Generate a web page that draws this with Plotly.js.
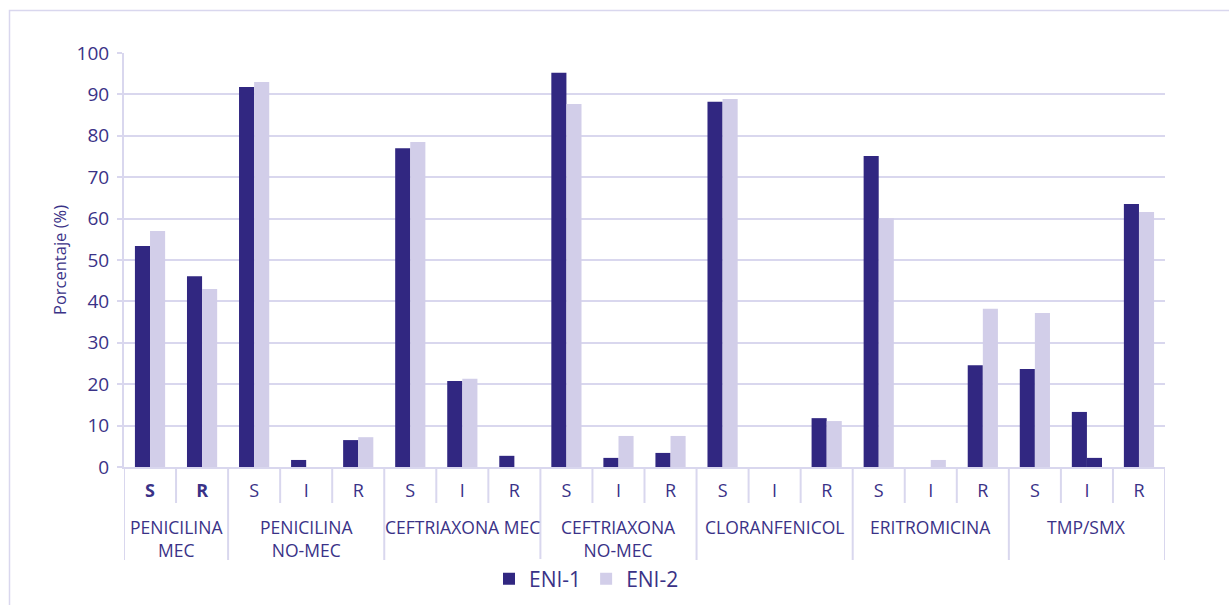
<!DOCTYPE html>
<html>
<head>
<meta charset="utf-8">
<script src="https://cdn.plot.ly/plotly-3.0.1.min.js"></script>
<style>html,body{margin:0;padding:0;background:#fff;}#chart{width:1229px;height:605px;}</style>
</head>
<body>
<div id="chart"></div>
<script>
// ---- data ----
var groups = ["PENICILINA<br>MEC", "PENICILINA<br>NO-MEC", "CEFTRIAXONA MEC", "CEFTRIAXONA<br>NO-MEC", "CLORANFENICOL", "ERITROMICINA", "TMP/SMX"];
var subcats = [["<b>S</b>", "<b>R</b>"], ["S", "I", "R"], ["S", "I", "R"], ["S", "I", "R"], ["S", "I", "R"], ["S", "I", "R"], ["S", "I", "R"]];
var eni1 = [53.4, 46.1, 91.8, 1.7, 6.5, 77.0, 20.8, 2.7, 95.2, 2.2, 3.4, 88.2, 0, 11.8, 75.1, 0, 24.6, 23.7, 13.3, 63.5];
var eni2 = [57.0, 43.0, 93.0, 0, 7.2, 78.5, 21.3, 0, 87.7, 7.5, 7.5, 88.9, 0, 11.1, 60.1, 1.7, 38.2, 37.2, 2.2, 61.6];
var seriesNames = ["ENI-1", "ENI-2"];
var yTicks = [0, 10, 20, 30, 40, 50, 60, 70, 80, 90, 100];

// ---- style ----
var DARK = "#312781", LIGHT = "#d2cee9", GRID = "#d9d7ee", TXT = "#3a3287";
var FONT = "'Open Sans', 'Noto Sans', sans-serif";

// build positions from categories
var xs = [], ticktext = [], groupStart = [], groupCenter = [];
var idx = 0;
subcats.forEach(function (sc, g) {
  groupStart.push(idx);
  groupCenter.push(idx + (sc.length - 1) / 2);
  sc.forEach(function (s) { xs.push(idx); ticktext.push(s); idx++; });
});
var N = idx;
var eni2Colors = eni2.map(function (v, i) { return (i === 18) ? DARK : LIGHT; });

// pixel helpers for paper coords
var L = 124, R = 64, T = 53, B = 138, W = 1229, H = 605;
var pw = W - L - R, ph = H - T - B;
function py(Y) { return (H - B - Y) / ph; }
function px(X) { return (X - L) / pw; }

var shapes = [];
for (var k = 0; k <= N; k++) {
  var isGroup = groupStart.indexOf(k) >= 0 || k === N;
  shapes.push({type: "line", xref: "x", yref: "paper", x0: k - 0.5, x1: k - 0.5,
    y0: 0, y1: isGroup ? py(560) : py(503), line: {color: GRID, width: 2}});
}
shapes.push({type: "rect", xref: "paper", yref: "paper", x0: px(9.5), x1: 1.3, y0: py(10.5), y1: -0.6,
  line: {color: GRID, width: 1.5}, fillcolor: "rgba(0,0,0,0)", layer: "below"});

var annotations = groups.map(function (g, i) {
  return {text: g, x: groupCenter[i], xref: "x", y: py(513), yref: "paper", yanchor: "top",
    showarrow: false, font: {family: FONT, size: 17.5, color: TXT}, align: "center"};
});

var traces = [
  {type: "bar", name: seriesNames[0], x: xs, y: eni1, marker: {color: DARK}},
  {type: "bar", name: seriesNames[1], x: xs, y: eni2, marker: {color: eni2Colors}}
];

var layout = {
  width: W, height: H,
  margin: {l: L, r: R, t: T, b: B, autoexpand: false},
  paper_bgcolor: "#fff", plot_bgcolor: "#fff",
  font: {family: FONT, color: TXT},
  barmode: "group", bargap: 0.42, bargroupgap: 0,
  xaxis: {range: [-0.5, N - 0.5], tickvals: xs, ticktext: ticktext, ticks: "",
    showgrid: false, zeroline: false, showline: true, linecolor: GRID, linewidth: 2,
    tickfont: {family: FONT, size: 18, color: TXT}, ticklabelstandoff: 6, fixedrange: true, automargin: false},
  yaxis: {range: [0, 100], tickvals: yTicks, ticks: "outside", ticklen: 5, tickcolor: GRID, tickwidth: 2,
    showgrid: true, gridcolor: GRID, gridwidth: 2, zeroline: false, showline: true, linecolor: GRID, linewidth: 2,
    tickfont: {family: FONT, size: 19, color: TXT}, ticklabelstandoff: 4, automargin: false,
    title: {text: "Porcentaje (%)", font: {family: FONT, size: 16.5, color: TXT}, standoff: 6}},
  showlegend: true,
  legend: {orientation: "h", x: px(489), xanchor: "left", y: py(579), yanchor: "middle",
    font: {family: FONT, size: 21, color: TXT}, itemwidth: 30, traceorder: "normal"},
  shapes: shapes, annotations: annotations
};

Plotly.newPlot("chart", traces, layout, {displayModeBar: false, staticPlot: true});
</script>
</body>
</html>
